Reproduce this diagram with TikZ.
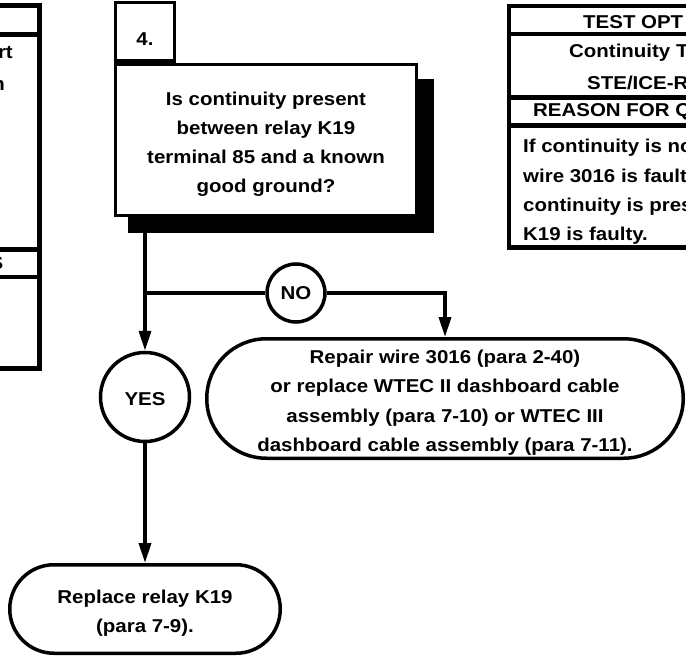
\documentclass[tikz,border=0pt]{standalone}
\usepackage{fontspec}
\setmainfont{Liberation Sans}[FakeStretch=1.1]
\usetikzlibrary{arrows.meta,positioning,shadows}
\newcommand{\upstrut}{\rule{0pt}{22pt}}

\begin{document}
\begin{tikzpicture}[
  x=1pt, y=-1pt,
  font=\fontsize{18.6}{29.3}\selectfont\bfseries,
  tblline/.style={line width=4.5pt},
  celltext/.style={inner sep=0pt, anchor=west},
  qbox/.style={
    rectangle, draw, line width=3.5pt, fill=white,
    minimum width=301pt, minimum height=151pt,
    align=center,
    drop shadow={shadow xshift=15pt, shadow yshift=-16pt,
      shadow scale=1.018, fill=black, opacity=1}
  },
  numbox/.style={
    rectangle, draw, line width=3.5pt, fill=white,
    minimum width=59pt, minimum height=58.5pt,
    text height=28pt, text depth=0pt
  },
  answer/.style={circle, draw, line width=3.5pt, fill=white, inner sep=0pt},
  action/.style={
    rectangle, draw, line width=3.5pt, align=center, inner sep=0pt
  },
  conn/.style={line width=3.5pt},
  arr/.style={conn, -{Triangle[length=20pt,width=12pt]}}
]
\useasboundingbox (0,0) rectangle (686,658);
\clip (0,0) rectangle (686,658);

% left table, cut off
\draw[tblline] (-20,5.5) -| (39.5,368.5) -- (-20,368.5);
\draw[tblline] (-20,34.5) -- (39.5,34.5);
\draw[tblline] (-20,249.5) -- (39.5,249.5);
\draw[tblline] (-20,277) -- (39.5,277);
\node[inner sep=0pt, anchor=east] (lt1) at (13,53) {rt};
\node[inner sep=0pt, anchor=east] (lt2) at (5,85) {n};
\node[inner sep=0pt, anchor=east] (lt3) at (3.5,263) {S};

% step 4
\node[qbox] (q4) at (266,140)
  {\upstrut Is continuity present\\between relay K19\\terminal 85 and a known\\good ground?};
\node[numbox, anchor=south west] (n4) at (q4.north west) {4.};

\node[answer, minimum size=58pt] (no) at (296,293) {NO};
\node[answer, minimum size=89pt, text height=17pt] (yes) at (145,397) {YES};
\node[action, minimum width=476.5pt, minimum height=119.5pt,
  rounded corners=59.7pt] (repair) at (445,398.5)
  {\upstrut Repair wire 3016 (para 2-40)\\or replace WTEC II dashboard cable\\assembly (para 7-10) or WTEC III\\dashboard cable assembly (para 7-11).};
\node[action, minimum width=270.5pt, minimum height=88.5pt,
  rounded corners=44.2pt] (fix) at (145,609)
  {\upstrut Replace relay K19\\(para 7-9).};

\coordinate (split) at (145,293);
\draw[conn] (q4.south -| yes.north) -- (split);
\draw[arr] (split) -- (yes);
\draw[conn] (split) -- (no);
\draw[arr] (no) -| (repair);
\draw[arr] (yes) -- (fix);

% right table, cut off
\draw[tblline] (720,6) -| (509,247.5) -- (720,247.5);
\draw[tblline] (509,34) -- (720,34);
\draw[tblline] (509,97.5) -- (720,97.5);
\draw[tblline] (509,125.5) -- (720,125.5);
\node[celltext] (rt1) at (583,22) {TEST OPT};
\node[celltext] (rt2) at (569,53) {Continuity T};
\node[celltext] (rt3) at (587,83) {STE/ICE-R};
\node[celltext] (rt4) at (533,112) {REASON FOR Q};
\node[celltext, align=left] (rt5) at (523,192)
  {If continuity is no\\wire 3016 is faulty\\continuity is prese\\K19 is faulty.};
\end{tikzpicture}
\end{document}
